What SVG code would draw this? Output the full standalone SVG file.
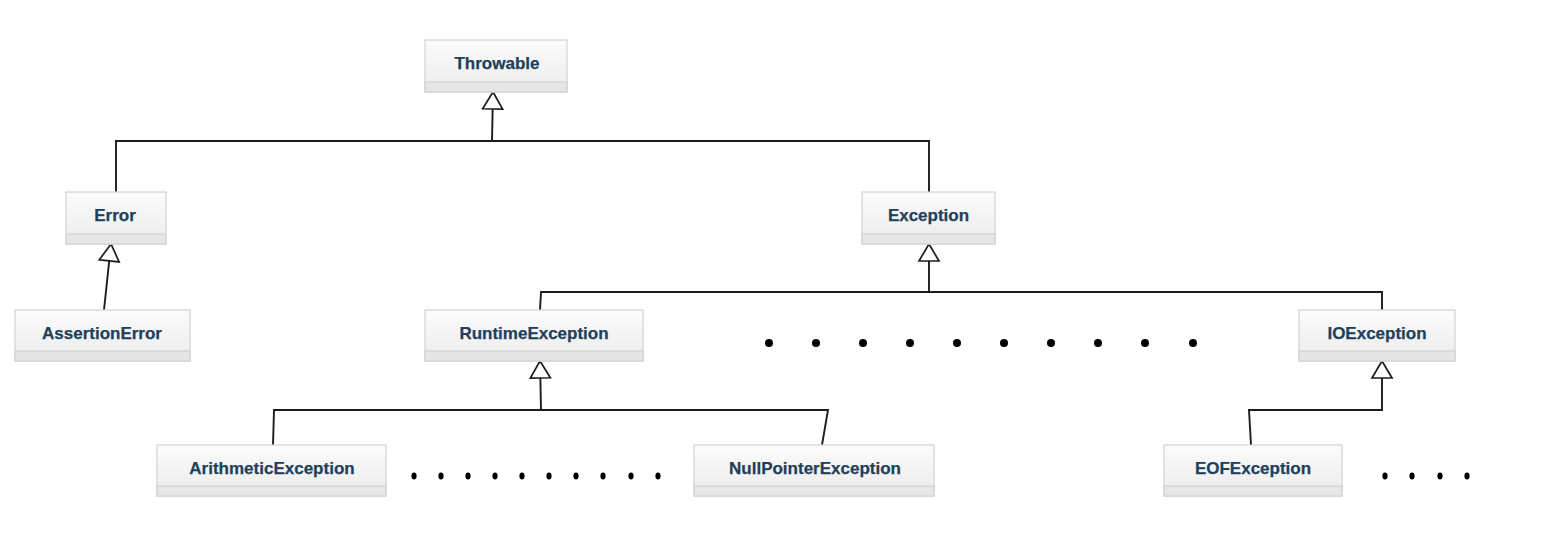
<svg xmlns="http://www.w3.org/2000/svg" width="1567" height="551" viewBox="0 0 1567 551">
<style>
.box{fill:url(#g);stroke:#d2d2d2;stroke-width:1.2}
.foot{fill:#e6e6e6;stroke:#d2d2d2;stroke-width:1.2}
.lbl{font-family:"Liberation Sans",Arial,sans-serif;font-weight:bold;font-size:17px;fill:#1f3f5b;stroke:#1f3f5b;stroke-width:0.25;text-anchor:middle}
.con{fill:none;stroke:#1c1c1c;stroke-width:1.9}
.dot{fill:#000}
</style>
<defs>
<linearGradient id="g" x1="0" y1="0" x2="0" y2="1">
<stop offset="0" stop-color="#fcfcfc"/>
<stop offset="1" stop-color="#ebebeb"/>
</linearGradient>
<marker id="tri" markerUnits="userSpaceOnUse" viewBox="-2 -12 22 24" markerWidth="22" markerHeight="24" refX="17" refY="0" orient="auto" overflow="visible">
<polygon points="17,0 0,-10 0,10" fill="#fff" stroke="#1c1c1c" stroke-width="1.7" stroke-linejoin="miter"/>
</marker>
</defs>
<rect width="1567" height="551" fill="#fff"/>

<g id="connectors">
<path class="con" d="M116,192 V141 H929 V192"/>
<path class="con" d="M492,141 L493,92" marker-end="url(#tri)"/>
<path class="con" d="M104,310 L111,244" marker-end="url(#tri)"/>
<path class="con" d="M540,310 L541,292 H1382 V310"/>
<path class="con" d="M929,292 V244" marker-end="url(#tri)"/>
<path class="con" d="M273,445 L274,410 H828 L822,445"/>
<path class="con" d="M541,410 L540,361" marker-end="url(#tri)"/>
<path class="con" d="M1251,445 L1249,410 H1382 V361" marker-end="url(#tri)"/>
</g>

<g id="throwable">
<rect class="box" x="425" y="40" width="142" height="52"/>
<rect class="foot" x="425" y="82" width="142" height="10"/>
<text class="lbl" x="497" y="69">Throwable</text>
</g>
<g id="error">
<rect class="box" x="66" y="192" width="100" height="52"/>
<rect class="foot" x="66" y="234" width="100" height="10"/>
<text class="lbl" x="115" y="221">Error</text>
</g>
<g id="exception">
<rect class="box" x="862" y="192" width="133" height="52"/>
<rect class="foot" x="862" y="234" width="133" height="10"/>
<text class="lbl" x="928.5" y="221">Exception</text>
</g>
<g id="assertionerror">
<rect class="box" x="15" y="310" width="175" height="51"/>
<rect class="foot" x="15" y="351" width="175" height="10"/>
<text class="lbl" x="102" y="339">AssertionError</text>
</g>
<g id="runtimeexception">
<rect class="box" x="425" y="310" width="218" height="51"/>
<rect class="foot" x="425" y="351" width="218" height="10"/>
<text class="lbl" x="534" y="339">RuntimeException</text>
</g>
<g id="ioexception">
<rect class="box" x="1299" y="310" width="156" height="51"/>
<rect class="foot" x="1299" y="351" width="156" height="10"/>
<text class="lbl" x="1377" y="339">IOException</text>
</g>
<g id="arithmeticexception">
<rect class="box" x="157" y="445" width="229" height="51"/>
<rect class="foot" x="157" y="486" width="229" height="10"/>
<text class="lbl" x="272" y="474">ArithmeticException</text>
</g>
<g id="nullpointerexception">
<rect class="box" x="694" y="445" width="240" height="51"/>
<rect class="foot" x="694" y="486" width="240" height="10"/>
<text class="lbl" x="815" y="474">NullPointerException</text>
</g>
<g id="eofexception">
<rect class="box" x="1164" y="445" width="178" height="51"/>
<rect class="foot" x="1164" y="486" width="178" height="10"/>
<text class="lbl" x="1253" y="474">EOFException</text>
</g>

<g id="dots-middle">
<circle class="dot" cx="769" cy="343" r="4"/>
<circle class="dot" cx="816" cy="343" r="4"/>
<circle class="dot" cx="863" cy="343" r="4"/>
<circle class="dot" cx="910" cy="343" r="4"/>
<circle class="dot" cx="957" cy="343" r="4"/>
<circle class="dot" cx="1004" cy="343" r="4"/>
<circle class="dot" cx="1051" cy="343" r="4"/>
<circle class="dot" cx="1098" cy="343" r="4"/>
<circle class="dot" cx="1145" cy="343" r="4"/>
<circle class="dot" cx="1193" cy="343" r="4"/>
</g>
<g id="dots-bottom-left">
<ellipse class="dot" cx="414" cy="476" rx="2.6" ry="3.4"/>
<ellipse class="dot" cx="441" cy="476" rx="2.6" ry="3.4"/>
<ellipse class="dot" cx="468" cy="476" rx="2.6" ry="3.4"/>
<ellipse class="dot" cx="495" cy="476" rx="2.6" ry="3.4"/>
<ellipse class="dot" cx="522" cy="476" rx="2.6" ry="3.4"/>
<ellipse class="dot" cx="549" cy="476" rx="2.6" ry="3.4"/>
<ellipse class="dot" cx="576" cy="476" rx="2.6" ry="3.4"/>
<ellipse class="dot" cx="603" cy="476" rx="2.6" ry="3.4"/>
<ellipse class="dot" cx="631" cy="476" rx="2.6" ry="3.4"/>
<ellipse class="dot" cx="658" cy="476" rx="2.6" ry="3.4"/>
</g>
<g id="dots-bottom-right">
<ellipse class="dot" cx="1385" cy="476" rx="2.6" ry="3.4"/>
<ellipse class="dot" cx="1412" cy="476" rx="2.6" ry="3.4"/>
<ellipse class="dot" cx="1440" cy="476" rx="2.6" ry="3.4"/>
<ellipse class="dot" cx="1467" cy="476" rx="2.6" ry="3.4"/>
</g>
</svg>
